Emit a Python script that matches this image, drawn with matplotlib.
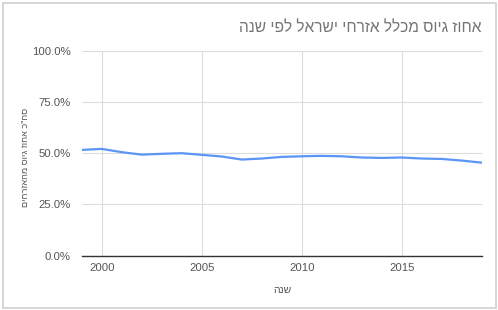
import matplotlib.pyplot as plt
from matplotlib.patches import Rectangle
from matplotlib.ticker import FuncFormatter

plt.rcParams['font.family'] = ['Liberation Sans', 'DejaVu Sans']

# data
years = [1999, 2000, 2001, 2002, 2003, 2004, 2005, 2006, 2007, 2008, 2009,
         2010, 2011, 2012, 2013, 2014, 2015, 2016, 2017, 2018, 2019]
percent = [51.6, 52.1, 50.5, 49.3, 49.7, 50.0, 49.2, 48.4, 46.9, 47.4, 48.2,
           48.5, 48.7, 48.5, 47.9, 47.7, 47.9, 47.4, 47.2, 46.4, 45.4]
x_ticks = [2000, 2005, 2010, 2015]
y_ticks = [0, 25, 50, 75, 100]

title = 'אחוז גיוס מכלל אזרחי ישראל לפי שנה'
x_label = 'שנה'
y_label = 'סה"כ אחוז גיוס מהאזרחים'


def rtl(s):
    # matplotlib has no bidi support, so flip Hebrew for visual order
    return s[::-1]


W, H = 498, 310
fig = plt.figure(figsize=(W / 100, H / 100), dpi=100)
fig.patches.append(Rectangle((3 / W, 2 / H), 493 / W, 305 / H, transform=fig.transFigure,
                             fill=False, edgecolor='#d0d0d0', linewidth=1.2))

ax = fig.add_axes([81.7 / W, 1 - 255.7 / H, 400 / W, 205 / H])
ax.plot(years, percent, color='#5b95f5', linewidth=1.6, solid_joinstyle='round')

ax.set_xlim(1999, 2019)
ax.set_ylim(0, 100)
ax.set_xticks(x_ticks)
ax.set_yticks(y_ticks)
ax.yaxis.set_major_formatter(FuncFormatter(lambda v, _: f'{v:.1f}%'))
ax.grid(True, color='#dcdcdc', linewidth=0.8)
ax.set_axisbelow(True)
for side in ['top', 'right', 'left']:
    ax.spines[side].set_visible(False)
ax.spines['bottom'].set_color('#333333')
ax.spines['bottom'].set_linewidth(1.0)
ax.spines['bottom'].set_zorder(3)
ax.tick_params(length=0, labelsize=8.2, labelcolor='#555555')
ax.tick_params(axis='x', pad=5)
ax.tick_params(axis='y', pad=8)

fig.text(481 / W, 1 - 28 / H, rtl(title), ha='right', va='center',
         fontsize=11.2, color='#757575')
fig.text(282 / W, 1 - 290 / H, rtl(x_label), ha='center', va='center',
         fontsize=7.5, color='#555555')
fig.text(25 / W, 1 - 157 / H, rtl(y_label), ha='center', va='center',
         rotation=90, fontsize=6.6, color='#555555')

fig.savefig('out.png', dpi=100)
